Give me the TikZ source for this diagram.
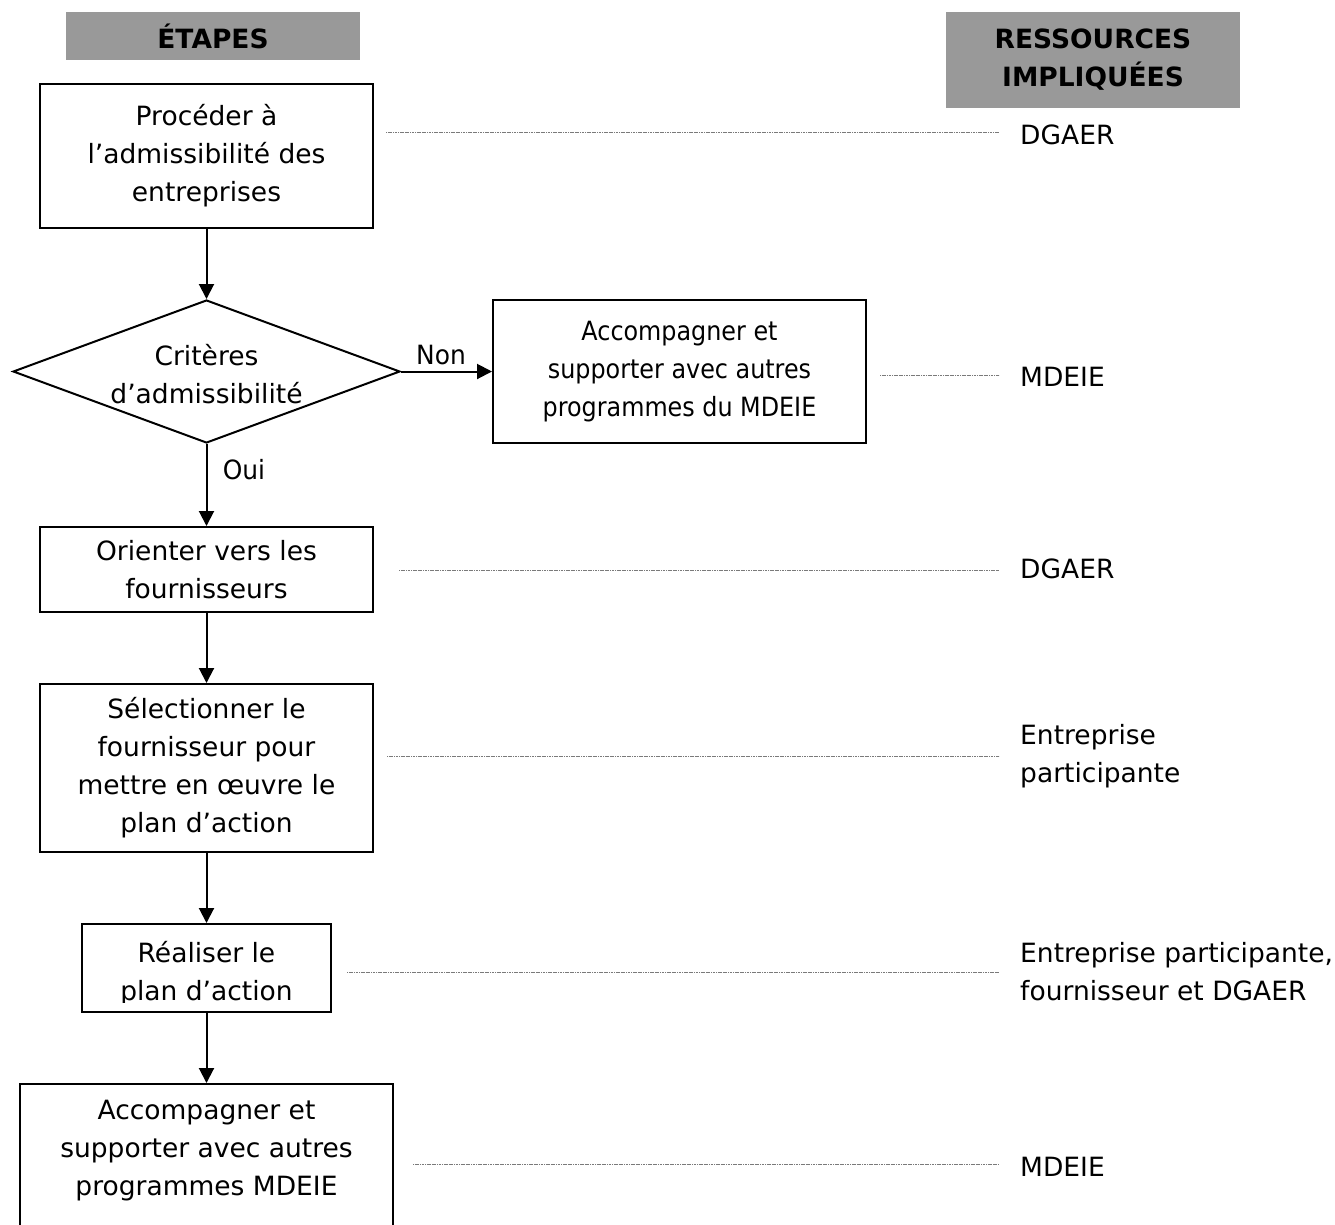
\documentclass[tikz,border=0pt]{standalone}
\usepackage{fontspec}
\setmainfont{DejaVu Sans}
\newfontfamily\cond[FakeStretch=0.9]{DejaVu Sans}
\newfontfamily\semicond[FakeStretch=0.94]{DejaVu Sans}
\usetikzlibrary{shapes.geometric,arrows.meta}
\definecolor{hdrgray}{HTML}{999999}
\definecolor{leadgray}{HTML}{7A7A7A}
\begin{document}
\begin{tikzpicture}[x=1pt,y=-1pt,
  every node/.style={font=\fontsize{26.5}{38}\selectfont, inner sep=0pt, align=center},
  hdr/.style={fill=hdrgray, font=\fontsize{26.5}{38}\selectfont\bfseries},
  stepbox/.style={draw, line width=2pt},
  condtxt/.style={font=\fontsize{26.5}{38}\selectfont\cond},
  lbltxt/.style={font=\fontsize{26.5}{38}\selectfont\semicond},
  arr/.style={line width=2pt, -{Triangle[length=15pt,width=15pt]}},
  leader/.style={draw=leadgray, line width=0.9pt, dash pattern=on 1.2pt off 0.5pt},
  res/.style={anchor=west, align=left}]
\useasboundingbox (0,0) rectangle (1335,1224);

% headers
\node[hdr, minimum width=294pt, minimum height=48pt] (h1) at (213,36) {ÉTAPES};
\node[hdr, minimum width=294pt, minimum height=96pt] (h2) at (1093,60) {RESSOURCES\\IMPLIQUÉES};

% steps
\node[stepbox, minimum width=333pt, minimum height=144pt] (b1) at (206.5,156) {Procéder à\\l’admissibilité des\\entreprises};
\node[draw, line width=2pt, diamond, minimum width=387pt, minimum height=143pt] (dia) at (206.5,371.5) {};
\node (diat) at (206.5,374) {Critères\\d’admissibilité};
\node[stepbox, condtxt, minimum width=373pt, minimum height=143pt] (mb) at (679.5,371.5) {Accompagner et\\supporter avec autres\\programmes du MDEIE};
\node[stepbox, minimum width=333pt, minimum height=85pt] (b2) at (206.5,569.5) {Orienter vers les\\fournisseurs};
\node[stepbox, minimum width=333pt, minimum height=168pt] (b3) at (206.5,768) {Sélectionner le\\fournisseur pour\\mettre en œuvre le\\plan d’action};
\node[stepbox, minimum width=249pt, minimum height=88pt] (b4) at (206.5,968) {};
\begin{scope}
  \clip (82,924) rectangle (331,1002);
  \node (b4t) at (206.5,974) {Réaliser le\\plan d’action};
\end{scope}
\node[stepbox, minimum width=373pt, minimum height=150pt, anchor=north] (b5) at (206.5,1083) {};
\node (b5t) at (206.5,1151) {Accompagner et\\supporter avec autres\\programmes MDEIE};

% connectors
\draw[arr] (b1.south) -- (dia.north);
\draw[arr] (dia.east) -- (mb.west);
\node[lbltxt] (non) at (441,355) {Non};
\draw[arr] (dia.south) -- (b2.north);
\node[lbltxt] (oui) at (244,470) {Oui};
\draw[arr] (b2.south) -- (b3.north);
\draw[arr] (b3.south) -- (b4.north);
\draw[arr] (b4.south) -- (b5.north);

% resources
\node[res] (r1) at (1020,135) {DGAER};
\node[res] (r2) at (1020,377) {MDEIE};
\node[res] (r3) at (1020,569) {DGAER};
\node[res] (r4) at (1020,756) {Entreprise\\participante};
\node[res] (r5) at (1020,972) {Entreprise participante,\\fournisseur et DGAER};
\node[res] (r6) at (1020,1167) {MDEIE};

\coordinate (s1) at (386,132);
\coordinate (s2) at (880,375);
\coordinate (s3) at (399,570);
\coordinate (s4) at (387,756);
\coordinate (s5) at (347,972);
\coordinate (s6) at (413,1164);
\coordinate (e) at (999,0);
\draw[leader] (s1) -- (s1 -| e);
\draw[leader] (s2) -- (s2 -| e);
\draw[leader] (s3) -- (s3 -| e);
\draw[leader] (s4) -- (s4 -| e);
\draw[leader] (s5) -- (s5 -| e);
\draw[leader] (s6) -- (s6 -| e);
\end{tikzpicture}
\end{document}
